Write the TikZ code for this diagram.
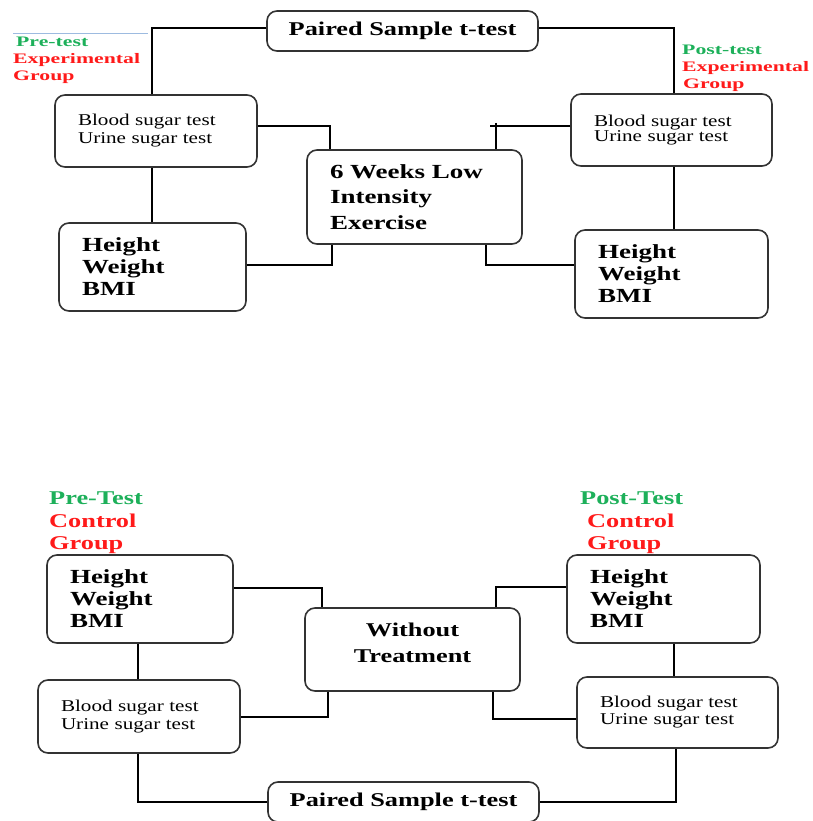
\documentclass[tikz,border=0pt]{standalone}
\usepackage{fontspec}
\setmainfont{Liberation Serif}
\newfontfamily\wf[FakeStretch=1.35]{Liberation Serif}
\newfontfamily\wfl[FakeStretch=1.5]{Liberation Serif}
\newfontfamily\wfs[FakeStretch=1.28]{Liberation Serif}
\definecolor{lblgreen}{HTML}{1DB05A}
\definecolor{lblred}{HTML}{FF1A1A}
\definecolor{boxline}{HTML}{333333}
\definecolor{faintblue}{HTML}{9DBBE0}
\begin{document}
\begin{tikzpicture}[x=1pt,y=-1pt,
  box/.style={draw=boxline, line width=1.6pt, rounded corners=10pt, inner xsep=23pt, inner ysep=0pt, align=left},
  cbox/.style={draw=boxline, line width=1.6pt, rounded corners=10pt, inner sep=0pt, align=center},
  bigtxt/.style={font=\wf\bfseries\fontsize{20}{22}\selectfont},
  smalltxt/.style={font=\wfs\fontsize{16.5}{18}\selectfont},
  conn/.style={draw=black, line width=1.5pt},
  toplbl/.style={anchor=base west, inner sep=0pt, font=\wfl\bfseries\fontsize{14.5}{17}\selectfont},
  botlbl/.style={anchor=base west, inner sep=0pt, font=\wf\bfseries\fontsize{19.5}{22}\selectfont}]
\useasboundingbox (0,0) rectangle (812,821);

% faint line at top left
\draw[faintblue, line width=0.8pt] (13,33) -- (148,33);

% ---------- top: experimental group ----------
\node[cbox, minimum width=271pt, minimum height=40pt, font=\wf\bfseries\fontsize{19.5}{22}\selectfont] (ps1) at (402.5,31) {Paired Sample t-test};
\node[box, smalltxt, text width=156pt, minimum width=202pt, minimum height=72pt] (bl1) at (156,131) {Blood sugar test\\Urine sugar test};
\node[box, bigtxt, text width=141pt, minimum width=187pt, minimum height=88pt] (hl1) at (152.5,267) {Height\\Weight\\BMI};
\node[box, font=\wf\bfseries\fontsize{20}{25.5}\selectfont, text width=169pt, minimum width=215pt, minimum height=94pt] (ex) at (414.5,197) {6 Weeks Low\\Intensity\\Exercise};
\node[box, font=\wfs\fontsize{16.5}{15}\selectfont, text width=155pt, minimum width=201pt, minimum height=72pt] (br1) at (671.5,130) {Blood sugar test\\Urine sugar test};
\node[box, bigtxt, text width=147pt, minimum width=193pt, minimum height=88pt] (hr1) at (671.5,274) {Height\\Weight\\BMI};

\node[toplbl, text=lblgreen] (pre1) at (16,47) {Pre-test};
\node[toplbl, text=lblred] (exg1) at (13,64) {Experimental};
\node[toplbl, text=lblred] (grp1) at (13,81) {Group};
\node[toplbl, text=lblgreen] (post1) at (682,55) {Post-test};
\node[toplbl, text=lblred] (exg2) at (682,72) {Experimental};
\node[toplbl, text=lblred] (grp2) at (683,89) {Group};

\draw[conn] ([yshift=3pt]ps1.west) -| (bl1.north -| 152,0);
\draw[conn] ([yshift=3pt]ps1.east) -| (br1.north -| 674,0);
\draw[conn] (bl1.east |- 0,126) -| (ex.north -| 330,0);
\draw[conn] (bl1.south -| 152,0) -- (hl1.north -| 152,0);
\draw[conn] (hl1.east |- 0,265) -| (ex.south -| 332,0);
\coordinate (t1) at (490,126);
\coordinate (t2) at (496,123);
\draw[conn] (br1.west |- 0,126) -- (t1);
\draw[conn] (t2) -- (ex.north -| 496,0);
\draw[conn] (br1.south -| 674,0) -- (hr1.north -| 674,0);
\draw[conn] (ex.south -| 486,0) |- (hr1.west |- 0,265);

% ---------- bottom: control group ----------
\node[botlbl, text=lblgreen] (pre2) at (49,504) {Pre-Test};
\node[botlbl, text=lblred] (ctl1) at (49,527) {Control};
\node[botlbl, text=lblred] (grp3) at (49,549) {Group};
\node[botlbl, text=lblgreen] (post2) at (580,504) {Post-Test};
\node[botlbl, text=lblred] (ctl2) at (587,527) {Control};
\node[botlbl, text=lblred] (grp4) at (587,549) {Group};

\node[box, bigtxt, text width=140pt, minimum width=186pt, minimum height=88pt] (hl2) at (140,599) {Height\\Weight\\BMI};
\node[box, smalltxt, text width=156pt, minimum width=202pt, minimum height=73pt] (bl2) at (139,716.5) {Blood sugar test\\Urine sugar test};
\node[cbox, font=\wf\bfseries\fontsize{19.5}{26}\selectfont, minimum width=215pt, minimum height=83pt, text depth=14pt] (wt) at (412.5,649.5) {Without\\Treatment};
\node[box, bigtxt, text width=147pt, minimum width=193pt, minimum height=88pt] (hr2) at (663.5,599) {Height\\Weight\\BMI};
\node[box, font=\wfs\fontsize{16.5}{17}\selectfont, text width=155pt, minimum width=201pt, minimum height=71pt] (br2) at (677.5,712.5) {Blood sugar test\\Urine sugar test};
\node[cbox, minimum width=271pt, minimum height=40pt, font=\wf\bfseries\fontsize{19.5}{22}\selectfont] (ps2) at (403.5,802) {Paired Sample t-test};

\draw[conn] (hl2.east |- 0,588) -| (wt.north -| 322,0);
\draw[conn] (hr2.west |- 0,587) -| (wt.north -| 496,0);
\draw[conn] (hl2.south -| 138,0) -- (bl2.north -| 138,0);
\draw[conn] (bl2.east |- 0,717) -| (wt.south -| 328,0);
\draw[conn] (wt.south -| 493,0) |- (br2.west |- 0,719);
\draw[conn] (hr2.south -| 674,0) -- (br2.north -| 674,0);
\draw[conn] (bl2.south -| 138,0) |- (ps2.west);
\draw[conn] (br2.south -| 676,0) |- (ps2.east);
\end{tikzpicture}
\end{document}
